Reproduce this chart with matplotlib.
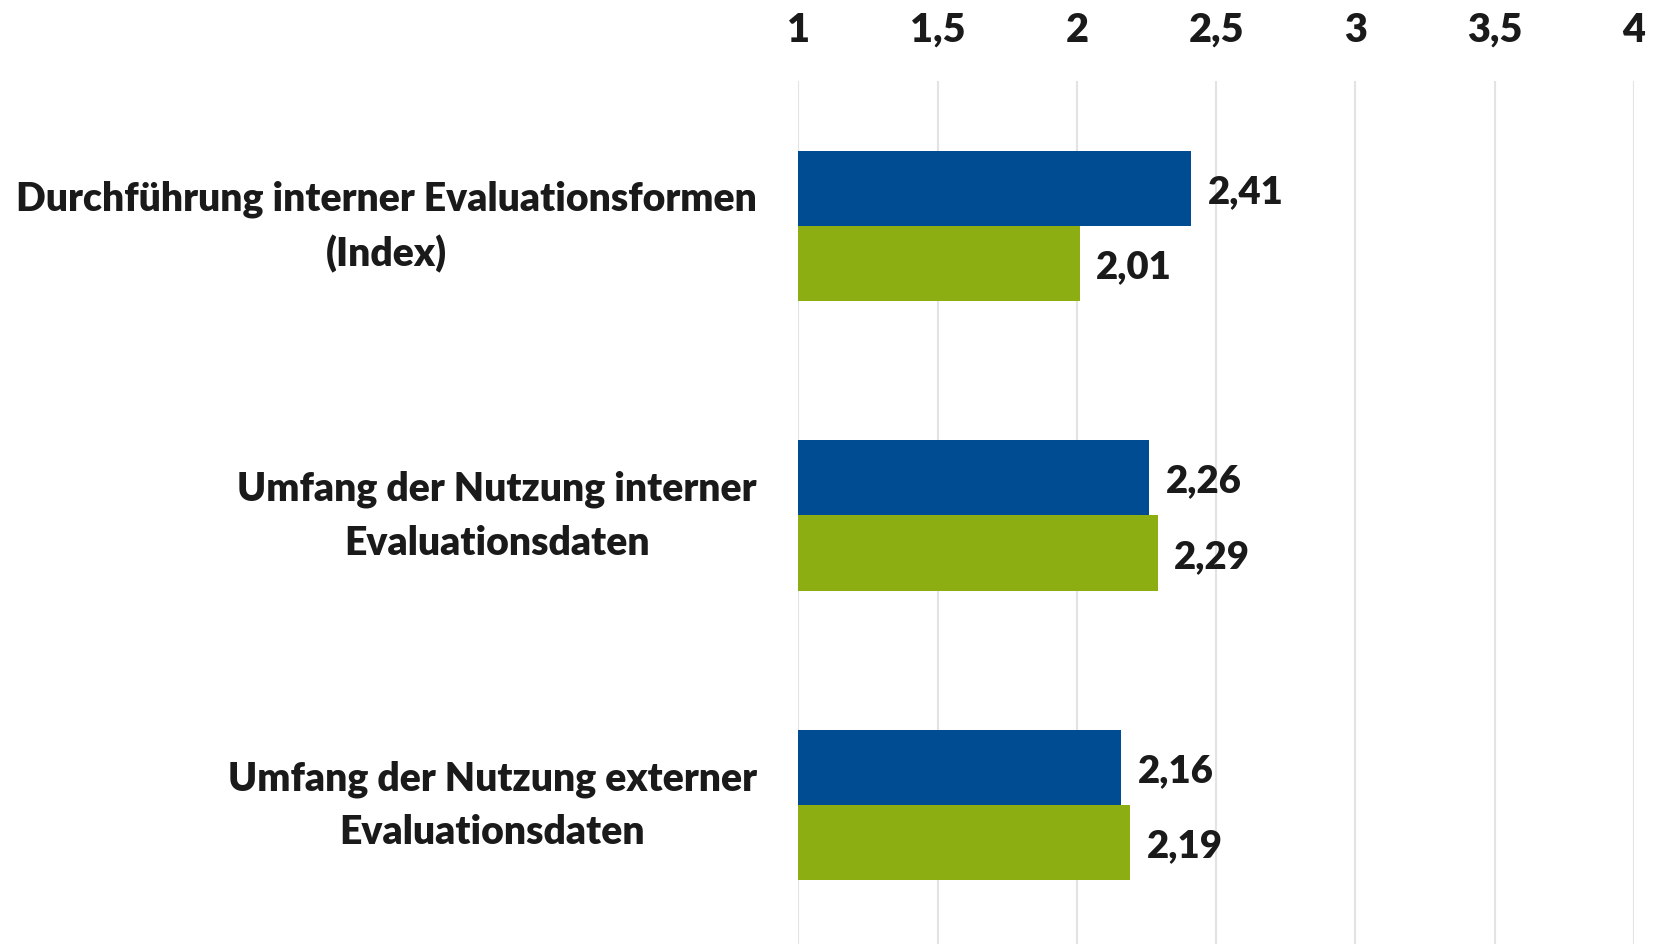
import numpy as np
import matplotlib
matplotlib.use("Agg")
import matplotlib.pyplot as plt

plt.rcParams['font.family'] = ['Lato', 'DejaVu Sans']
plt.rcParams['font.weight'] = 'heavy'

categories = [
    "Durchführung interner Evaluationsformen\n(Index)",
    "Umfang der Nutzung interner\nEvaluationsdaten",
    "Umfang der Nutzung externer\nEvaluationsdaten",
]
series_blue = [2.41, 2.26, 2.16]
series_green = [2.01, 2.29, 2.19]
xticks = [1, 1.5, 2, 2.5, 3, 3.5, 4]

blue = '#004C93'
green = '#8DAE13'
txt = '#1a1a1a'

fig = plt.figure(figsize=(16.56, 9.45), dpi=100)
ax = fig.add_axes([798.3 / 1656, 0, (1634 - 798.3) / 1656, 1 - 82 / 945])

y = np.arange(len(categories))
h = 0.26
ax.barh(y - h / 2, np.array(series_blue) - 1, left=1, height=h, color=blue)
ax.barh(y + h / 2, np.array(series_green) - 1, left=1, height=h, color=green)

def fmt(v):
    return ("%g" % v).replace('.', ',')

for yi, v in zip(y - h / 2, series_blue):
    ax.annotate(fmt(v), (v, yi), xytext=(12, -2), textcoords='offset points',
                ha='left', va='center', fontsize=27.5, color=txt)
for yi, v in zip(y + h / 2, series_green):
    ax.annotate(fmt(v), (v, yi), xytext=(12, -2), textcoords='offset points',
                ha='left', va='center', fontsize=27.5, color=txt)

ax.set_xlim(1, 4)
ax.set_ylim(2.48, -0.5)
ax.set_xticks(xticks)
ax.set_xticklabels([fmt(t) for t in xticks])
ax.xaxis.tick_top()
ax.tick_params(axis='x', length=0, pad=24, labelsize=28.5, labelcolor=txt)

# category labels drawn as text so the two-line block can be centred on the group
ax.set_yticks([])
for yi, c in zip(y, categories):
    ax.annotate(c, (0, yi), xycoords=('axes fraction', 'data'),
                xytext=(-30, 0), textcoords='offset points',
                ha='right', va='center', multialignment='center',
                linespacing=1.55, fontsize=28.2, color=txt)

ax.grid(axis='x', color='#e3e3e3', linewidth=1.5)
ax.set_axisbelow(True)
for s in ax.spines.values():
    s.set_visible(False)

fig.savefig('out.png', dpi=100)
